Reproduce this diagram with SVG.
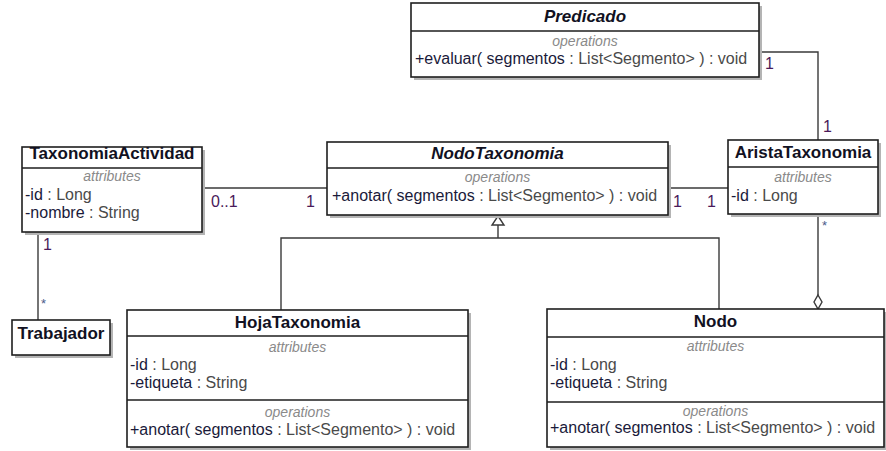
<svg xmlns="http://www.w3.org/2000/svg" width="886" height="451" viewBox="0 0 886 451">
<style>
  .shadow { fill: #b4b4b4; }
  .box { fill: #ffffff; stroke: #1e1e1e; stroke-width: 1.6; }
  .sep { stroke: #1e1e1e; stroke-width: 1.6; }
  .title { font-family: "Liberation Sans", Arial, sans-serif; font-size: 17px; font-weight: bold; fill: #111122; text-anchor: middle; }
  .abstract { font-style: italic; }
  .stereo { font-family: "Liberation Sans", Arial, sans-serif; font-size: 14px; font-style: italic; fill: #8a8a8a; text-anchor: middle; }
  .member { font-family: "Liberation Sans", Arial, sans-serif; font-size: 16px; fill: #1a1a3a; }
  .type { fill: #4a4a4a; }
  .conn { fill: none; stroke: #3a3a3a; stroke-width: 1.4; }
  .mult { font-family: "Liberation Sans", Arial, sans-serif; font-size: 16px; fill: #4a1a5a; }
  .star { font-family: "Liberation Sans", Arial, sans-serif; font-size: 13px; fill: #4a5a8a; }
</style>

<g id="connectors">
  <!-- Predicado - AristaTaxonomia -->
  <polyline class="conn" points="759,52 818,52 818,140"/>
  <text class="mult" x="765" y="69">1</text>
  <text class="mult" x="823" y="132">1</text>
  <!-- TaxonomiaActividad - NodoTaxonomia -->
  <line class="conn" x1="202" y1="188" x2="327" y2="188"/>
  <text class="mult" x="211" y="207">0..1</text>
  <text class="mult" x="306" y="207">1</text>
  <!-- NodoTaxonomia - AristaTaxonomia -->
  <line class="conn" x1="668" y1="188" x2="728" y2="188"/>
  <text class="mult" x="673" y="207">1</text>
  <text class="mult" x="707" y="207">1</text>
  <!-- TaxonomiaActividad - Trabajador -->
  <line class="conn" x1="38" y1="232" x2="38" y2="320"/>
  <text class="mult" x="43" y="250">1</text>
  <text class="star" x="41" y="308">*</text>
  <!-- AristaTaxonomia - Nodo (aggregation) -->
  <line class="conn" x1="818" y1="214" x2="818" y2="295"/>
  <polygon class="conn" points="818,295 822,302 818,309 814,302" style="fill:#ffffff"/>
  <text class="star" x="822" y="230">*</text>
  <!-- Generalization -->
  <polyline class="conn" points="281,310 281,238 719,238 719,309"/>
  <line class="conn" x1="498" y1="225" x2="498" y2="238"/>
  <polygon class="conn" points="498,216 504,225 492,225" style="fill:#ffffff"/>
</g>

<g id="Predicado">
  <rect class="shadow" x="414" y="6" width="348" height="74"/>
  <rect class="box" x="411" y="3" width="348" height="74"/>
  <line class="sep" x1="411" y1="31" x2="759" y2="31"/>
  <text class="title abstract" x="585" y="22">Predicado</text>
  <text class="stereo" x="585" y="46">operations</text>
  <text class="member" x="415" y="64">+evaluar( segmentos <tspan class="type">: List&lt;Segmento&gt; ) : void</tspan></text>
</g>

<g id="TaxonomiaActividad">
  <rect class="shadow" x="25" y="150" width="180" height="85"/>
  <rect class="box" x="22" y="147" width="180" height="85"/>
  <line class="sep" x1="22" y1="168" x2="202" y2="168"/>
  <text class="title" x="112" y="159">TaxonomiaActividad</text>
  <text class="stereo" x="112" y="181">attributes</text>
  <text class="member" x="25" y="200">-id <tspan class="type">: Long</tspan></text>
  <text class="member" x="25" y="218">-nombre <tspan class="type">: String</tspan></text>
</g>

<g id="NodoTaxonomia">
  <rect class="shadow" x="330" y="145" width="341" height="73"/>
  <rect class="box" x="327" y="142" width="341" height="73"/>
  <line class="sep" x1="327" y1="168" x2="668" y2="168"/>
  <text class="title abstract" x="497.5" y="159">NodoTaxonomia</text>
  <text class="stereo" x="497.5" y="182">operations</text>
  <text class="member" x="332" y="201">+anotar( segmentos <tspan class="type">: List&lt;Segmento&gt; ) : void</tspan></text>
</g>

<g id="AristaTaxonomia">
  <rect class="shadow" x="731" y="143" width="150" height="74"/>
  <rect class="box" x="728" y="140" width="150" height="74"/>
  <line class="sep" x1="728" y1="167" x2="878" y2="167"/>
  <text class="title" x="803" y="158">AristaTaxonomia</text>
  <text class="stereo" x="803" y="182">attributes</text>
  <text class="member" x="731" y="201">-id <tspan class="type">: Long</tspan></text>
</g>

<g id="Trabajador">
  <rect class="shadow" x="15" y="323" width="98" height="35"/>
  <rect class="box" x="12" y="320" width="98" height="35"/>
  <text class="title" x="61" y="339">Trabajador</text>
</g>

<g id="HojaTaxonomia">
  <rect class="shadow" x="130" y="313" width="341" height="137"/>
  <rect class="box" x="127" y="310" width="341" height="137"/>
  <line class="sep" x1="127" y1="336" x2="468" y2="336"/>
  <line class="sep" x1="127" y1="400" x2="468" y2="400"/>
  <text class="title" x="297.5" y="328">HojaTaxonomia</text>
  <text class="stereo" x="297.5" y="352">attributes</text>
  <text class="member" x="130" y="370">-id <tspan class="type">: Long</tspan></text>
  <text class="member" x="130" y="388">-etiqueta <tspan class="type">: String</tspan></text>
  <text class="stereo" x="297.5" y="417">operations</text>
  <text class="member" x="130" y="435">+anotar( segmentos <tspan class="type">: List&lt;Segmento&gt; ) : void</tspan></text>
</g>

<g id="Nodo">
  <rect class="shadow" x="550" y="312" width="337" height="138"/>
  <rect class="box" x="547" y="309" width="337" height="138"/>
  <line class="sep" x1="547" y1="337" x2="884" y2="337"/>
  <line class="sep" x1="547" y1="402" x2="884" y2="402"/>
  <text class="title" x="715.5" y="327">Nodo</text>
  <text class="stereo" x="715.5" y="351">attributes</text>
  <text class="member" x="550" y="370">-id <tspan class="type">: Long</tspan></text>
  <text class="member" x="550" y="388">-etiqueta <tspan class="type">: String</tspan></text>
  <text class="stereo" x="715.5" y="416">operations</text>
  <text class="member" x="550" y="433">+anotar( segmentos <tspan class="type">: List&lt;Segmento&gt; ) : void</tspan></text>
</g>
</svg>
